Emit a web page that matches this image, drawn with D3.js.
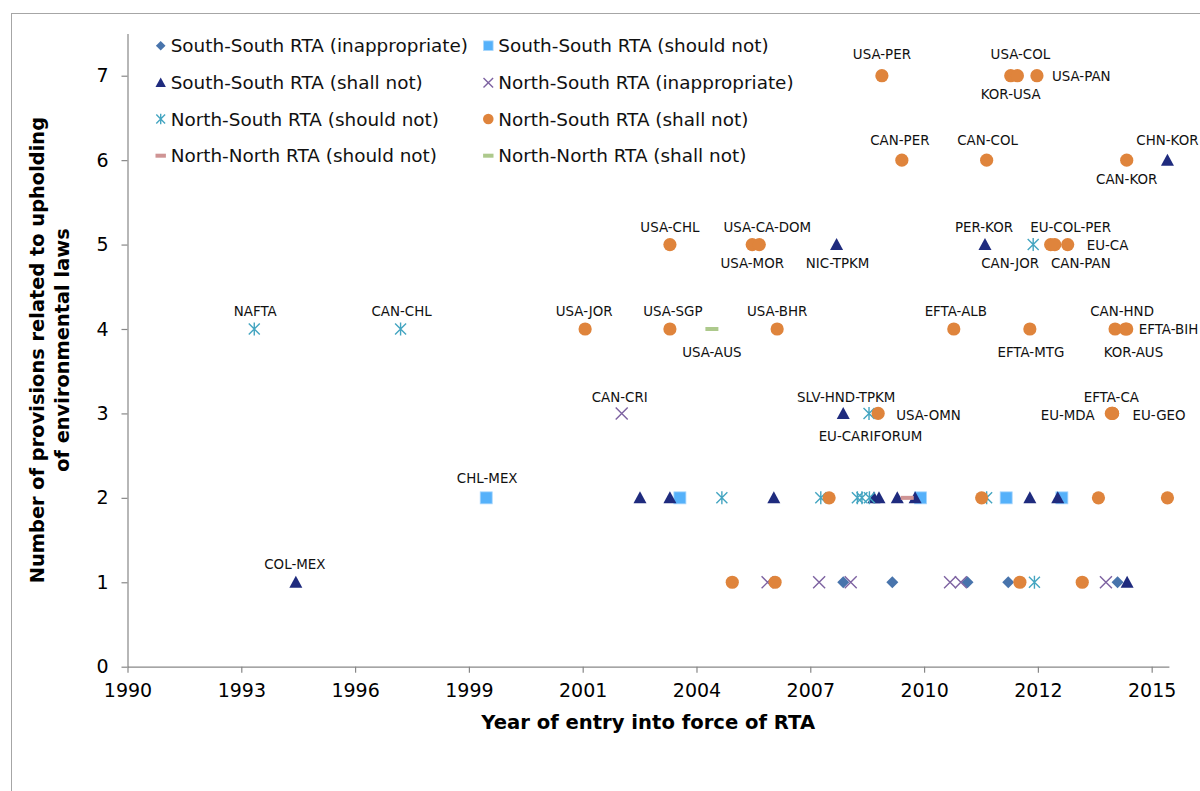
<!DOCTYPE html>
<html>
<head>
<meta charset="utf-8">
<script src="https://cdn.jsdelivr.net/npm/d3@7"></script>
<style>
  html, body { margin: 0; padding: 0; background: #fff; }
  svg { display: block; font-family: "DejaVu Sans", Verdana, sans-serif; }
</style>
</head>
<body>
<svg id="chart" width="1200" height="791"></svg>
<script>
// ---- Data: [year of entry into force, number of provisions, RTA label] ----
const ssInappropriate = [
  [2008.15, 1], [2009.33, 1], [2011.14, 1], [2012.12, 1], [2014.75, 1]
];
const ssShouldNot = [
  [1999.56, 2, "CHL-MEX"], [2004.22, 2], [2010.01, 2], [2012.07, 2], [2013.41, 2]
];
const ssShallNot = [
  [1994.98, 1, "COL-MEX"], [2014.98, 1],
  [2003.26, 2], [2003.98, 2], [2006.48, 2], [2008.89, 2], [2009.01, 2],
  [2009.45, 2], [2009.88, 2], [2012.64, 2], [2013.31, 2],
  [2008.15, 3, "SLV-HND-TPKM"],
  [2007.99, 5, "NIC-TPKM"], [2011.56, 5, "PER-KOR"],
  [2015.95, 6, "CHN-KOR"]
];
const nsInappropriate = [
  [2002.82, 3, "CAN-CRI"],
  [2006.33, 1], [2007.57, 1], [2008.33, 1], [2010.72, 1], [2010.98, 1], [2014.47, 1]
];
const nsShouldNot = [
  [1993.98, 4, "NAFTA"], [1997.50, 4, "CAN-CHL"],
  [2005.23, 2], [2007.61, 2], [2008.49, 2], [2008.60, 2], [2008.78, 2], [2011.60, 2],
  [2008.77, 3, "EU-CARIFORUM"],
  [2012.72, 5, "CAN-JOR"],
  [2012.75, 1]
];
const nsShallNot = [
  [2009.08, 7, "USA-PER"], [2012.18, 7, "KOR-USA"], [2012.34, 7, "USA-COL"], [2012.81, 7, "USA-PAN"],
  [2009.56, 6, "CAN-PER"], [2011.60, 6, "CAN-COL"], [2014.97, 6, "CAN-KOR"],
  [2003.98, 5, "USA-CHL"], [2005.96, 5, "USA-MOR"], [2006.13, 5, "USA-CA-DOM"],
  [2013.14, 5, "EU-COL-PER"], [2013.24, 5, "CAN-PAN"], [2013.55, 5, "EU-CA"],
  [2001.94, 4, "USA-JOR"], [2003.98, 4, "USA-SGP"], [2006.56, 4, "USA-BHR"],
  [2010.81, 4, "EFTA-ALB"], [2012.64, 4, "EFTA-MTG"], [2014.69, 4, "CAN-HND"],
  [2014.94, 4, "KOR-AUS"], [2014.97, 4, "EFTA-BIH"],
  [2008.99, 3, "USA-OMN"], [2014.60, 3, "EFTA-CA"], [2014.63, 3, "EU-MDA"], [2014.63, 3, "EU-GEO"],
  [2007.81, 2], [2011.48, 2], [2014.29, 2], [2015.95, 2],
  [2005.48, 1], [2006.51, 1], [2012.40, 1], [2013.90, 1]
];
const nnShouldNot = [
  [2009.69, 2]
];
const nnShallNot = [
  [2004.99, 4, "USA-AUS"]
];

const seriesNames = [
  "South-South RTA (inappropriate)", "South-South RTA (should not)",
  "South-South RTA (shall not)", "North-South RTA (inappropriate)",
  "North-South RTA (should not)", "North-South RTA (shall not)",
  "North-North RTA (should not)", "North-North RTA (shall not)"
];
const seriesValues = [
  ssInappropriate, ssShouldNot, ssShallNot, nsInappropriate,
  nsShouldNot, nsShallNot, nnShouldNot, nnShallNot
];

// Axis ticks: date axis starting late 1990 with a 1000-day major unit
const xMinYear = 1990.93;
const xMaxYear = 2015.985;
const xTickStepDays = 1000;
const xTickLabels = ["1990", "1993", "1996", "1999", "2001", "2004", "2007", "2010", "2012", "2015"];
const yTickValues = [0, 1, 2, 3, 4, 5, 6, 7];

// ---- Styling ----
const seriesStyle = [
  { shape: "diamond",  color: "#4874AC" },
  { shape: "square",   color: "#55B1FA" },
  { shape: "triangle", color: "#1F2B7E" },
  { shape: "cross",    color: "#7D62A1" },
  { shape: "star",     color: "#44A5C1" },
  { shape: "circle",   color: "#DF843C" },
  { shape: "dash",     color: "#CF9494" },
  { shape: "dash",     color: "#ADC98C" }
];

// Data label placement relative to its marker: [dx, dy, anchor]
const labelPlacement = {
  "USA-PER": [0, -22, "middle"], "USA-COL": [3, -22, "middle"], "KOR-USA": [0, 18, "middle"],
  "USA-PAN": [15, 0, "start"],
  "CAN-PER": [-2, -20, "middle"], "CAN-COL": [1, -20, "middle"], "CAN-KOR": [0, 19, "middle"],
  "CHN-KOR": [0, -20, "middle"],
  "USA-CHL": [0, -17, "middle"], "USA-CA-DOM": [8, -17, "middle"], "USA-MOR": [0, 19, "middle"],
  "NIC-TPKM": [1, 19, "middle"], "PER-KOR": [-1, -17, "middle"], "CAN-JOR": [-23, 19, "middle"],
  "EU-COL-PER": [20, -17, "middle"], "CAN-PAN": [26, 19, "middle"], "EU-CA": [19, 0.5, "start"],
  "NAFTA": [1, -18, "middle"], "CAN-CHL": [1, -18, "middle"], "USA-JOR": [-1, -18, "middle"],
  "USA-SGP": [3, -18, "middle"], "USA-AUS": [0, 23, "middle"], "USA-BHR": [0, -18, "middle"],
  "EFTA-ALB": [2, -18, "middle"], "EFTA-MTG": [1, 23, "middle"], "CAN-HND": [7, -18, "middle"],
  "KOR-AUS": [8, 23, "middle"], "EFTA-BIH": [12, 0, "start"],
  "CAN-CRI": [-2, -16, "middle"], "SLV-HND-TPKM": [3, -16, "middle"],
  "EU-CARIFORUM": [1.5, 23, "middle"], "USA-OMN": [18, 1.5, "start"],
  "EFTA-CA": [0, -16, "middle"], "EU-MDA": [-18, 1.5, "end"], "EU-GEO": [20, 1.5, "start"],
  "CHL-MEX": [1, -19.5, "middle"], "COL-MEX": [-1, -18, "middle"]
};

const plot = { left: 127.5, right: 1168.9, top: 33.5, bottom: 666.7 };

const svg = d3.select("#chart");
svg.append("rect").attr("width", 1200).attr("height", 791).attr("fill", "#fff");

// Chart area frame
svg.append("rect")
  .attr("x", 11.5).attr("y", 13.5).attr("width", 1400).attr("height", 1000)
  .attr("fill", "none").attr("stroke", "#A6A6A6").attr("stroke-width", 1);

const x = d3.scaleLinear().domain([xMinYear, xMaxYear]).range([plot.left, plot.right]);
const y = d3.scaleLinear().domain([0, 7.5]).range([plot.bottom, plot.top]);

const xTickValues = xTickLabels.map((_, i) => xMinYear + i * xTickStepDays / 365.25);

// Axes
const xAxis = d3.axisBottom(x)
  .tickValues(xTickValues)
  .tickFormat((d, i) => xTickLabels[i])
  .tickSizeInner(6).tickSizeOuter(0).tickPadding(6);
const yAxis = d3.axisLeft(y)
  .tickValues(yTickValues)
  .tickFormat(d3.format("d"))
  .tickSizeInner(6).tickSizeOuter(0).tickPadding(13);

const gx = svg.append("g").attr("transform", `translate(0,${plot.bottom})`).call(xAxis);
const gy = svg.append("g").attr("transform", `translate(${plot.left},0)`).call(yAxis);

[gx, gy].forEach(g => {
  g.select(".domain").attr("stroke", "#878787").attr("stroke-width", 1.2);
  g.selectAll(".tick line").attr("stroke", "#878787").attr("stroke-width", 1.2);
  g.selectAll(".tick text").attr("fill", "#000").attr("font-size", 19)
    .attr("font-family", "DejaVu Sans, Verdana, sans-serif");
});
gx.selectAll(".tick text").attr("dy", "0.95em");

// Axis titles
svg.append("text")
  .attr("x", (plot.left + plot.right) / 2).attr("y", 729)
  .attr("text-anchor", "middle").attr("font-size", 19.6).attr("font-weight", "bold")
  .text("Year of entry into force of RTA");

const yTitle = svg.append("text")
  .attr("transform", `translate(0,${(plot.top + plot.bottom) / 2}) rotate(-90)`)
  .attr("text-anchor", "middle").attr("font-size", 19.4).attr("font-weight", "bold");
yTitle.append("tspan").attr("x", 0).attr("y", 44).text("Number of provisions related to upholding");
yTitle.append("tspan").attr("x", 0).attr("y", 68.5).text("of environmental laws");

// Marker drawing
function drawMarker(g, shape, color, k) {
  const s = 6 * k;
  switch (shape) {
    case "diamond":
      g.append("path").attr("d", `M0,${-s}L${s},0L0,${s}L${-s},0Z`).attr("fill", color);
      break;
    case "square":
      g.append("rect").attr("x", -s).attr("y", -s).attr("width", 2 * s).attr("height", 2 * s)
        .attr("fill", color).attr("stroke", "#A8D6FC").attr("stroke-width", 0.8);
      break;
    case "triangle":
      g.append("path").attr("d", `M0,${-6.5 * k}L${6.5 * k},${5.5 * k}L${-6.5 * k},${5.5 * k}Z`).attr("fill", color);
      break;
    case "cross":
      g.append("path").attr("d", `M${-s},${-s}L${s},${s}M${-s},${s}L${s},${-s}`)
        .attr("stroke", color).attr("stroke-width", 1.4).attr("fill", "none");
      break;
    case "star": {
      const a = 5.5 * k, v = 6.5 * k;
      g.append("path").attr("d", `M${-a},${-a}L${a},${a}M${-a},${a}L${a},${-a}M0,${-v}L0,${v}`)
        .attr("stroke", color).attr("stroke-width", 1.4).attr("fill", "none");
      break;
    }
    case "circle":
      g.append("circle").attr("r", 6.6 * k).attr("fill", color);
      break;
    case "dash":
      g.append("rect").attr("x", -6.5 * k).attr("y", -2).attr("width", 13 * k).attr("height", 4).attr("fill", color);
      break;
  }
}

// Plot points, one layer per series in legend order
const marks = svg.append("g");
seriesValues.forEach((vals, si) => {
  const st = seriesStyle[si];
  const layer = marks.append("g").attr("class", "series-" + si);
  vals.forEach(d => {
    const g = layer.append("g").attr("transform", `translate(${x(d[0])},${y(d[1])})`);
    drawMarker(g, st.shape, st.color, 1);
  });
});

// Data labels
const labels = svg.append("g").attr("font-size", 13.4).attr("fill", "#111");
seriesValues.forEach(vals => {
  vals.filter(d => d[2]).forEach(d => {
    const p = labelPlacement[d[2]] || [0, -18, "middle"];
    labels.append("text")
      .attr("x", x(d[0]) + p[0]).attr("y", y(d[1]) + p[1])
      .attr("dy", "0.36em").attr("text-anchor", p[2])
      .text(d[2]);
  });
});

// Legend: two columns, four rows
const legendCols = [160.7, 488.3];
const legendRows = [45.7, 82.7, 119, 155.7];
const legend = svg.append("g");
seriesNames.forEach((name, i) => {
  const cx = legendCols[i % 2], cy = legendRows[Math.floor(i / 2)];
  const g = legend.append("g").attr("transform", `translate(${cx},${cy})`);
  drawMarker(g, seriesStyle[i].shape, seriesStyle[i].color, 0.8);
  legend.append("text").attr("x", cx + 10).attr("y", cy).attr("dy", "0.36em")
    .attr("font-size", 18.4).attr("fill", "#111").text(name);
});
</script>
</body>
</html>
